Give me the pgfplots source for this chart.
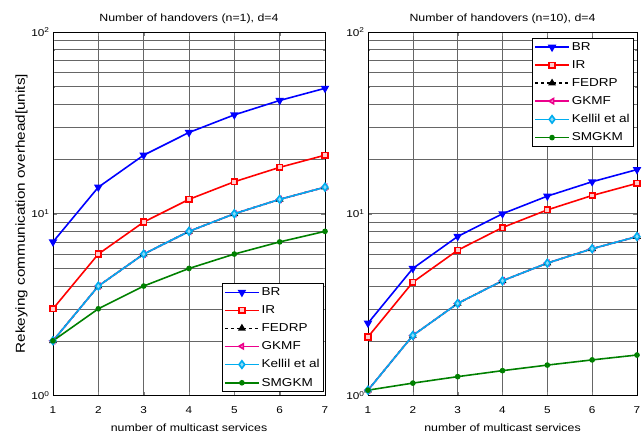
\documentclass[border=0pt]{standalone}
\usepackage{pgfplots}
\pgfplotsset{compat=1.18}
\usepackage{fontspec}
\setmainfont{Liberation Sans}[FakeStretch=1.18]

% n = 1 handover
\pgfplotstableread{
x  BR  IR  FEDRP GKMF Kellil SMGKM
1  7   3   2     2    2      2
2  14  6   4     4    4      3
3  21  9   6     6    6      4
4  28  12  8     8    8      5
5  35  15  10    10   10     6
6  42  18  12    12   12     7
7  49  21  14    14   14     8
}\dataone

% n = 10 handovers
\pgfplotstableread{
x  BR    IR    FEDRP GKMF Kellil SMGKM
1  2.5   2.1   1.07  1.07 1.07   1.07
2  5.0   4.2   2.14  2.14 2.14   1.17
3  7.5   6.3   3.21  3.21 3.21   1.27
4  10.0  8.4   4.28  4.28 4.28   1.37
5  12.5  10.5  5.35  5.35 5.35   1.47
6  15.0  12.6  6.42  6.42 6.42   1.57
7  17.5  14.7  7.49  7.49 7.49   1.67
}\dataten

\definecolor{mgreen}{rgb}{0,0.5,0}

\begin{document}
\begin{tikzpicture}
\path[use as bounding box] (0bp,0bp) rectangle (644bp,434bp);

\begin{semilogyaxis}[at={(53bp,38.5bp)}, anchor=south west,
  scale only axis, width=272bp, height=363.5bp,
  xmin=1, xmax=7, ymin=1, ymax=100,
  xtick={1,2,3,4,5,6,7},
  xticklabels={1,2,3,4,5,6,7},
  ytick={1,10,100},
  yticklabels={10\textsuperscript{0},10\textsuperscript{1},10\textsuperscript{2}},
  tick label style={font=\fontsize{10}{12}\selectfont},
  xticklabel style={yshift=-8bp},
  tick align=inside,
  major tick length=4bp, minor tick length=2bp,
  grid=both,
  major grid style={black!60, line width=0.5pt},
  minor grid style={black!60, line width=0.5pt},
  axis line style={line width=0.7pt},
  title style={font=\fontsize{10.5}{12}\selectfont, yshift=-1bp},
  xlabel={number of multicast services},
  xlabel style={font=\fontsize{10.5}{12}\selectfont, yshift=-3bp},
  legend cell align=left,
  legend style={font=\fontsize{11.5}{13}\selectfont, draw=black, fill=white, line width=0.7pt,
    inner sep=2bp, row sep=4.6bp, at={(rel axis cs:0.996,0.01)}, anchor=south east},
  legend image code/.code={\draw[mark repeat=2,mark phase=2]
    plot coordinates {(0bp,0bp) (17bp,0bp) (34bp,0bp)};},
  title={Number of handovers (n=1), d=4},
  ylabel={Rekeying communication overhead[units]},
  ylabel style={font=\fontsize{13}{15}\selectfont, yshift=-3bp}]
\addplot[blue, line width=1.6pt, mark=triangle*, mark options={rotate=180, fill=blue, scale=1.7}] table[x=x, y=BR] {\dataone};
\addplot[red, line width=1.6pt, mark=square*, mark options={fill=red!20, scale=1.4}] table[x=x, y=IR] {\dataone};
\addplot[black, dashed, line width=1.6pt, mark=triangle*, mark options={solid, fill=black, scale=1.5}] table[x=x, y=FEDRP] {\dataone};
\addplot[magenta, line width=1.6pt, mark=triangle*, mark options={rotate=90, fill=magenta!40, scale=1.5}] table[x=x, y=GKMF] {\dataone};
\addplot[cyan, line width=1.6pt, mark=diamond*, mark options={fill=cyan!45, scale=1.9}] table[x=x, y=Kellil] {\dataone};
\addplot[mgreen, line width=1.6pt, mark=*, mark options={fill=mgreen, scale=1}] table[x=x, y=SMGKM] {\dataone};
\legend{BR,IR,FEDRP,GKMF,Kellil et al,SMGKM}
\end{semilogyaxis}

\begin{semilogyaxis}[at={(368bp,38.5bp)}, anchor=south west,
  scale only axis, width=269bp, height=363.5bp,
  xmin=1, xmax=7, ymin=1, ymax=100,
  xtick={1,2,3,4,5,6,7},
  xticklabels={1,2,3,4,5,6,7},
  ytick={1,10,100},
  yticklabels={10\textsuperscript{0},10\textsuperscript{1},10\textsuperscript{2}},
  tick label style={font=\fontsize{10}{12}\selectfont},
  xticklabel style={yshift=-8bp},
  tick align=inside,
  major tick length=4bp, minor tick length=2bp,
  grid=both,
  major grid style={black!60, line width=0.5pt},
  minor grid style={black!60, line width=0.5pt},
  axis line style={line width=0.7pt},
  title style={font=\fontsize{10.5}{12}\selectfont, yshift=-1bp},
  xlabel={number of multicast services},
  xlabel style={font=\fontsize{10.5}{12}\selectfont, yshift=-3bp},
  legend cell align=left,
  legend style={font=\fontsize{11.5}{13}\selectfont, draw=black, fill=white, line width=0.7pt,
    inner sep=2bp, row sep=4.6bp, at={(rel axis cs:0.989,0.983)}, anchor=north east},
  legend image code/.code={\draw[mark repeat=2,mark phase=2]
    plot coordinates {(0bp,0bp) (17bp,0bp) (34bp,0bp)};},
  title={Number of handovers (n=10), d=4}]
\addplot[blue, line width=1.6pt, mark=triangle*, mark options={rotate=180, fill=blue, scale=1.7}] table[x=x, y=BR] {\dataten};
\addplot[red, line width=1.6pt, mark=square*, mark options={fill=red!20, scale=1.4}] table[x=x, y=IR] {\dataten};
\addplot[black, dashed, line width=1.6pt, mark=triangle*, mark options={solid, fill=black, scale=1.5}] table[x=x, y=FEDRP] {\dataten};
\addplot[magenta, line width=1.6pt, mark=triangle*, mark options={rotate=90, fill=magenta!40, scale=1.5}] table[x=x, y=GKMF] {\dataten};
\addplot[cyan, line width=1.6pt, mark=diamond*, mark options={fill=cyan!45, scale=1.9}] table[x=x, y=Kellil] {\dataten};
\addplot[mgreen, line width=1.6pt, mark=*, mark options={fill=mgreen, scale=1}] table[x=x, y=SMGKM] {\dataten};
\legend{BR,IR,FEDRP,GKMF,Kellil et al,SMGKM}
\end{semilogyaxis}
\end{tikzpicture}
\end{document}
